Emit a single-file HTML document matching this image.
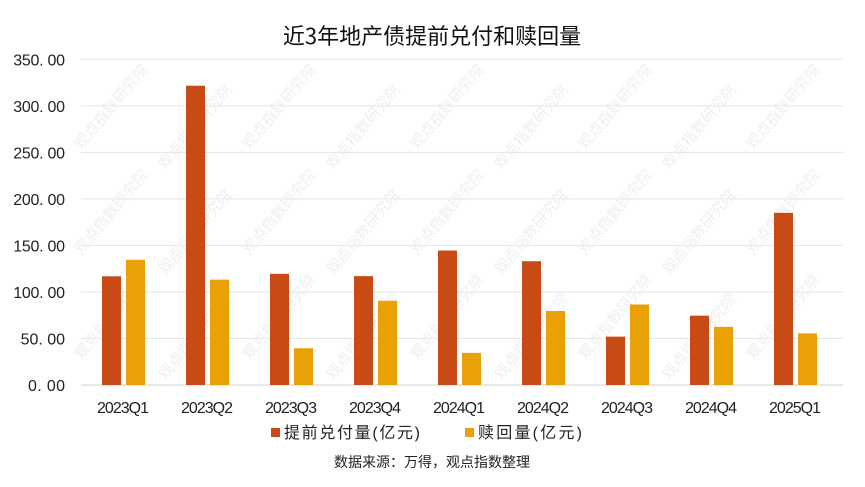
<!DOCTYPE html>
<html><head><meta charset="utf-8"><style>
body{margin:0;background:#fff;}
svg{display:block;font-family:"Liberation Sans","Noto Sans CJK SC",sans-serif;}
</style></head><body>
<svg id="chart" width="865" height="487">
<text x="432" y="44" text-anchor="middle" font-size="22" fill="#111" style="font-family:'Noto Sans CJK SC',sans-serif">近3年地产债提前兑付和赎回量</text>
<g id="grid"></g><g id="wm"></g><g id="bars"></g><g id="xl"></g>
<g>
<rect x="271" y="428" width="9" height="9" fill="#C84B16"/>
<text x="284" y="438" font-size="16" fill="#222" textLength="136">提前兑付量(亿元)</text>
<rect x="465" y="428" width="9" height="9" fill="#EAA108"/>
<text x="478" y="438" font-size="16" fill="#222" textLength="104">赎回量(亿元)</text>
</g>
<text x="432" y="467" text-anchor="middle" font-size="14" fill="#222">数据来源：万得，观点指数整理</text>
</svg>
<script>
const categories=["2023Q1","2023Q2","2023Q3","2023Q4","2024Q1","2024Q2","2024Q3","2024Q4","2025Q1"];
const prepay=[116.8,321.6,119.5,117,144.5,133,52,74.5,185];
const redeem=[134.6,113.2,39.5,90.5,34.5,79.5,86.5,62.5,55.5];
const yTicks=[0,50,100,150,200,250,300,350];
const NS="http://www.w3.org/2000/svg";
const x0=81,step=84,y0=385,yTop=59.3,ymax=350;
function y(v){return y0-(v/ymax)*(y0-yTop);}
function cx(i){return x0+step*i+step/2;}
function mk(t,a,p){const e=document.createElementNS(NS,t);for(const k in a)e.setAttribute(k,a[k]);p.appendChild(e);return e;}
const g=document.getElementById('grid');
yTicks.forEach(v=>{
 const l=mk('line',{x1:x0,x2:843,y1:y(v),y2:y(v),stroke:v===0?'#d0d0d0':'#e3e3e3','stroke-width':1},g);
 
 
 const s=v.toFixed(2).replace('.','. ');
 const t=mk('text',{x:65,y:y(v)+6,'text-anchor':'end','font-size':16,fill:'#222',textLength:s.length*7.4},g);
 t.textContent=s;
 
 
});
const wm=document.getElementById('wm');
for(let i=0;i<9;i++){for(let r=0;r<3;r++){
 const t=mk('text',{x:0,y:0,'font-size':15,fill:'#efefef',transform:`translate(${cx(i)-8},${110+r*105+ (i%2?20:0)}) rotate(-50)`,'text-anchor':'middle'},wm);
 t.textContent='观点指数研究院';
 
 
}}
const b=document.getElementById('bars'),xl=document.getElementById('xl');
categories.forEach((c,i)=>{
 const r1=mk('rect',{x:cx(i)-21,y:y(prepay[i]),width:19,height:y0-y(prepay[i]),fill:'#C84B16'},b);
 
 
 const r2=mk('rect',{x:cx(i)+3,y:y(redeem[i]),width:19,height:y0-y(redeem[i]),fill:'#EAA108'},b);
 
 
 const t=mk('text',{x:cx(i)-26,y:413,'font-size':16,fill:'#222',textLength:52},xl);
 t.textContent=c;
 
 
});
</script>
</body></html>
